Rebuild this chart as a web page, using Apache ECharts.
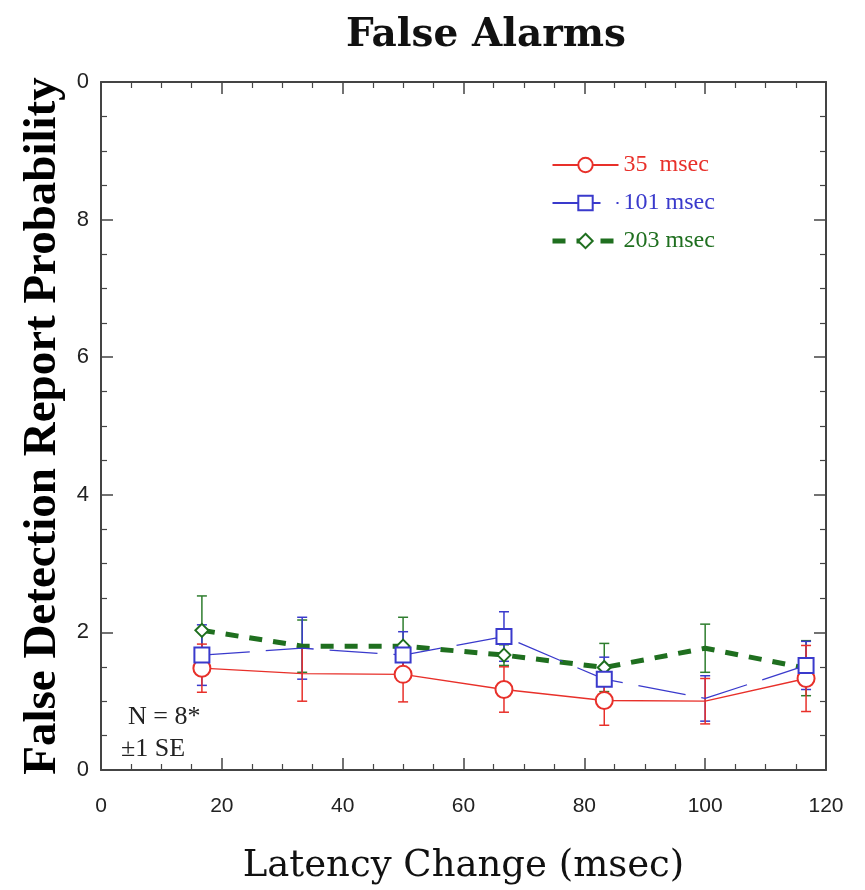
<!DOCTYPE html>
<html>
<head>
<meta charset="utf-8">
<script src="https://cdn.jsdelivr.net/npm/echarts@6/dist/echarts.min.js"></script>
<style>
  html, body { margin: 0; padding: 0; background: #fff; }
  #chart { width: 865px; height: 890px; }
</style>
</head>
<body>
<div id="chart"></div>
<script>
// latency change (msec) for every point
var latency = [16.7, 33.3, 50, 66.7, 83.3, 100, 116.7];

// 35 msec
var red = [0.148, 0.140, 0.139, 0.117, 0.101, 0.100, 0.133];
var redSE = [0.035, 0.040, 0.040, 0.033, 0.036, 0.033, 0.048];
// 101 msec
var blue = [0.167, 0.177, 0.167, 0.194, 0.132, 0.104, 0.152];
var blueSE = [0.044, 0.045, 0.034, 0.036, 0.032, 0.033, 0.035];
// 203 msec
var green = [0.203, 0.180, 0.180, 0.167, 0.149, 0.177, 0.148];
var greenSE = [0.050, 0.038, 0.042, 0.015, 0.035, 0.035, 0.040];

var seriesNames = ['35  msec', '101 msec', '203 msec'];
var yTickLabels = ['0', '2', '4', '6', '8', '0'];
var xTickLabels = ['0', '20', '40', '60', '80', '100', '120'];

var serif = '"Liberation Serif", "DejaVu Serif", serif';
var wideSerif = '"DejaVu Serif", serif';

function pairs(ys) {
  return latency.map(function (x, i) {
    var item = { value: [x, ys[i]] };
    // no marker drawn at 33 and 100 msec in the figure
    if (i === 1 || i === 5) item.symbolSize = 0;
    return item;
  });
}

function errBars(ys, se, color) {
  return {
    type: 'custom',
    z: 1,
    silent: true,
    data: latency.map(function (x, i) { return [x, ys[i] - se[i], ys[i] + se[i]]; }),
    renderItem: function (params, api) {
      var lo = api.coord([api.value(0), api.value(1)]);
      var hi = api.coord([api.value(0), api.value(2)]);
      var w = 5;
      var st = { stroke: color, lineWidth: 1.5 };
      return {
        type: 'group',
        children: [
          { type: 'line', shape: { x1: lo[0], y1: lo[1], x2: hi[0], y2: hi[1] }, style: st },
          { type: 'line', shape: { x1: lo[0] - w, y1: lo[1], x2: lo[0] + w, y2: lo[1] }, style: st },
          { type: 'line', shape: { x1: hi[0] - w, y1: hi[1], x2: hi[0] + w, y2: hi[1] }, style: st }
        ]
      };
    }
  };
}

// fresh style objects for every axis
function frameAxis(extra) {
  var a = {
    type: 'value',
    axisLine: { show: true, onZero: false, lineStyle: { color: '#444', width: 2 } },
    axisTick: { show: true, inside: true, length: 12, lineStyle: { color: '#444', width: 1.5 } },
    minorTick: { show: true, splitNumber: 4, length: 6, lineStyle: { color: '#444', width: 1.2 } },
    splitLine: { show: false },
    minorSplitLine: { show: false }
  };
  for (var k in extra) a[k] = extra[k];
  return a;
}

var chart = echarts.init(document.getElementById('chart'));
chart.setOption({
  backgroundColor: '#fff',
  animation: false,
  title: {
    text: 'False Alarms',
    left: 481,
    top: 11,
    textAlign: 'center',
    textStyle: { fontFamily: wideSerif, fontWeight: 'bold', fontSize: 39, color: '#111' }
  },
  grid: { left: 101, right: 39, top: 82, bottom: 118 },
  legend: {
    orient: 'vertical',
    left: 545,
    top: 148,
    itemWidth: 66,
    itemHeight: 18,
    itemGap: 14,
    data: [
      { name: seriesNames[0], textStyle: { color: '#e8302a' } },
      { name: seriesNames[1], textStyle: { color: '#3a3acc' } },
      { name: seriesNames[2], textStyle: { color: '#1f6f1f' }, lineStyle: { width: 5 } }
    ],
    textStyle: { fontFamily: serif, fontSize: 24 }
  },
  xAxis: [
    frameAxis({
      min: 0, max: 120, interval: 20, position: 'bottom',
      axisLabel: {
        margin: 26, fontSize: 21, color: '#222', fontFamily: '"Liberation Sans", sans-serif',
        formatter: function (v) { return xTickLabels[Math.round(v / 20)]; }
      },
      name: 'Latency Change (msec)',
      nameLocation: 'middle',
      nameGap: 78,
      nameTextStyle: { fontFamily: wideSerif, fontSize: 37, color: '#111' }
    }),
    frameAxis({
      min: 0, max: 120, interval: 20, position: 'top',
      axisLabel: { show: false }
    })
  ],
  yAxis: [
    frameAxis({
      min: 0, max: 1, interval: 0.2, position: 'left',
      axisLabel: {
        margin: 12, fontSize: 22, color: '#222', fontFamily: '"Liberation Sans", sans-serif',
        formatter: function (v) { return yTickLabels[Math.round(v * 5)]; }
      },
      name: 'False Detection Report Probability',
      nameLocation: 'middle',
      nameRotate: 90,
      nameGap: 32,
      nameTextStyle: { fontFamily: serif, fontWeight: 'bold', fontSize: 47, color: '#000' }
    }),
    frameAxis({
      min: 0, max: 1, interval: 0.2, position: 'right',
      axisLabel: { show: false }
    })
  ],
  graphic: [
    { type: 'text', left: 128, top: 704, style: { text: 'N = 8*', font: '26px ' + serif, fill: '#222' } },
    { type: 'text', left: 121, top: 736, style: { text: '±1 SE', font: '26px ' + serif, fill: '#222' } }
  ],
  series: [
    errBars(green, greenSE, '#2e7d2e'),
    errBars(blue, blueSE, '#3a3acc'),
    errBars(red, redSE, '#e8302a'),
    {
      name: seriesNames[0], type: 'line', z: 3,
      data: pairs(red),
      symbol: 'emptyCircle', symbolSize: 17,
      itemStyle: { color: '#e8302a', borderWidth: 1.3 },
      lineStyle: { color: '#e8302a', width: 1.3 }
    },
    {
      name: seriesNames[1], type: 'line', z: 3,
      data: pairs(blue),
      symbol: 'emptyRect', symbolSize: 15,
      itemStyle: { color: '#3a3acc', borderWidth: 1.5 },
      lineStyle: { color: '#3a3acc', width: 1.3, type: [48, 16] }
    },
    {
      name: seriesNames[2], type: 'line', z: 2,
      data: pairs(green),
      symbol: 'emptyDiamond', symbolSize: 13,
      itemStyle: { color: '#1f6f1f', borderWidth: 1.2 },
      lineStyle: { color: '#1f6f1f', width: 5, type: [13, 11] }
    }
  ]
});
</script>
</body>
</html>
